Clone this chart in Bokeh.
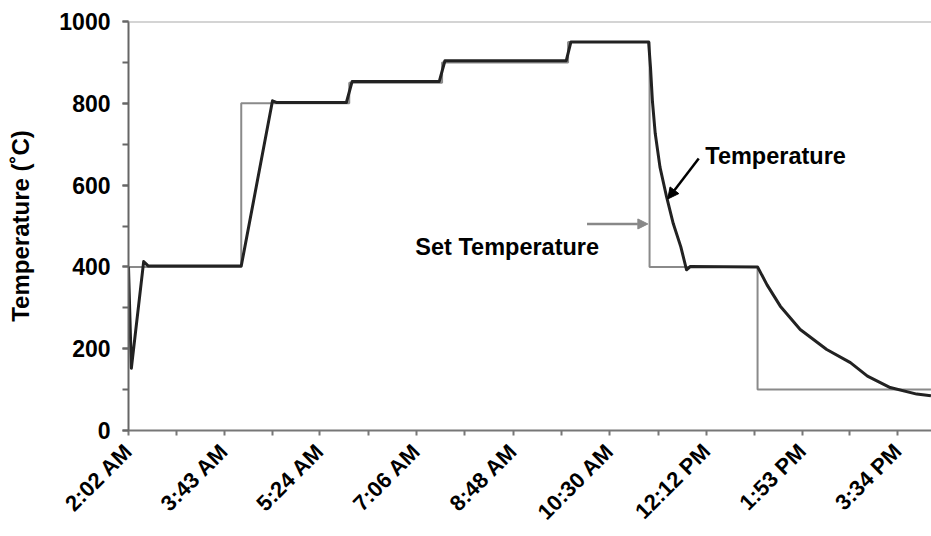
import math
from bokeh.plotting import figure
from bokeh.models import FixedTicker, Span, Arrow, NormalHead, Label, Range1d
from bokeh.embed import file_html
from bokeh.resources import INLINE

# ---- data -------------------------------------------------------------
tick_labels = ["2:02 AM", "3:43 AM", "5:24 AM", "7:06 AM", "8:48 AM",
               "10:30 AM", "12:12 PM", "1:53 PM", "3:34 PM"]

y_ticks = [0, 200, 400, 600, 800, 1000]

# measured temperature (24h clock)
temp_times = ["2:02", "2:05", "2:18", "2:23", "4:01", "4:34", "4:38", "5:52",
              "5:58", "7:30", "7:36", "9:44", "9:49", "11:11", "11:13", "11:15",
              "11:18", "11:23", "11:30", "11:37", "11:45", "11:51", "11:55",
              "13:06", "13:16", "13:30", "13:51", "14:19", "14:44", "15:02",
              "15:26", "15:54", "16:09"]
temp_values = [400, 152, 413, 402, 402, 806, 802, 802,
               853, 853, 904, 904, 950, 950, 887, 806,
               726, 644, 571, 506, 449, 393, 401,
               400, 356, 304, 247, 198, 166, 133,
               105, 89, 85]

# set temperature (step changes, 24h clock)
set_times = ["2:02", "4:01", "5:55", "7:33", "9:46", "11:12", "13:06", "16:09"]
set_values = [400, 800, 850, 900, 950, 400, 100, 100]


def hrs24(s):
    h, m = s.split(":")
    return int(h) + int(m) / 60.0


def hrs12(s):
    t, ap = s.split(" ")
    h, m = t.split(":")
    h = int(h) % 12
    if ap == "PM":
        h += 12
    return h + int(m) / 60.0


tick_pos = [hrs12(s) for s in tick_labels]
minor_pos = [(a + b) / 2 for a, b in zip(tick_pos[:-1], tick_pos[1:])]
tx = [hrs24(s) for s in temp_times]
sx = [hrs24(s) for s in set_times]

FONT = "Liberation Sans"

p = figure(width=931, height=536, output_backend="svg", toolbar_location=None,
           x_range=Range1d(tick_pos[0], 16.16), y_range=Range1d(0, 1000),
           min_border_left=128, min_border_top=21, min_border_bottom=105,
           min_border_right=0)
p.outline_line_color = None
p.xgrid.visible = False
p.ygrid.visible = False
p.background_fill_color = "white"
p.border_fill_color = "white"

# top frame line
p.add_layout(Span(location=1000, dimension="width", line_color="#aaaaaa", line_width=2))

# set temperature (gray) then measured temperature (black)
p.step(sx, set_values, mode="after", line_color="#8a8a8a", line_width=2)
p.line(tx, temp_values, line_color="#222222", line_width=3, line_join="round")

# axes
xa = p.xaxis[0]
xa.ticker = FixedTicker(ticks=tick_pos, minor_ticks=minor_pos)
xa.major_label_overrides = {t: l for t, l in zip(tick_pos, tick_labels)}
xa.major_label_orientation = math.pi / 4
xa.axis_line_color = "#777777"
xa.axis_line_width = 2
xa.major_tick_line_color = "#777777"
xa.minor_tick_line_color = "#777777"
xa.major_tick_line_width = 2
xa.minor_tick_line_width = 2
xa.major_tick_in = 0
xa.major_tick_out = 5
xa.minor_tick_in = 0
xa.minor_tick_out = 5
xa.major_label_text_font = FONT
xa.major_label_text_font_style = "bold"
xa.major_label_text_font_size = "22px"
xa.major_label_text_color = "black"
xa.major_label_standoff = 12

ya = p.yaxis[0]
ya.ticker = FixedTicker(ticks=y_ticks, minor_ticks=list(range(0, 1001, 100)))
ya.axis_label = "Temperature (\u02daC)"
ya.axis_label_text_font = FONT
ya.axis_label_text_font_style = "bold"
ya.axis_label_text_font_size = "24px"
ya.axis_label_text_color = "black"
ya.axis_label_standoff = 22
ya.axis_line_color = "#666666"
ya.axis_line_width = 2
ya.major_tick_line_color = "#666666"
ya.minor_tick_line_color = "#666666"
ya.major_tick_line_width = 2
ya.minor_tick_line_width = 2
ya.major_tick_in = 0
ya.major_tick_out = 6
ya.minor_tick_in = 0
ya.minor_tick_out = 6
ya.major_label_text_font = FONT
ya.major_label_text_font_style = "bold"
ya.major_label_text_font_size = "23px"
ya.major_label_text_color = "black"
ya.major_label_standoff = 12

# annotations
p.add_layout(Label(x=12.18, y=671, text="Temperature", text_font=FONT,
                   text_font_style="bold", text_font_size="23.5px",
                   text_color="black", text_baseline="alphabetic"))
p.add_layout(Label(x=7.08, y=449, text="Set Temperature", text_font=FONT,
                   text_font_style="bold", text_font_size="23.5px",
                   text_color="black", text_baseline="alphabetic"))
p.add_layout(Arrow(end=NormalHead(size=11, fill_color="black", line_color="black"),
                   x_start=12.065, y_start=665, x_end=11.52, y_end=566,
                   line_color="black", line_width=2.5))
p.add_layout(Arrow(end=NormalHead(size=10, fill_color="#888888", line_color="#888888"),
                   x_start=10.10, y_start=505, x_end=11.17, y_end=505,
                   line_color="#888888", line_width=2.5))

open("out.html", "w").write(file_html(p, INLINE))
